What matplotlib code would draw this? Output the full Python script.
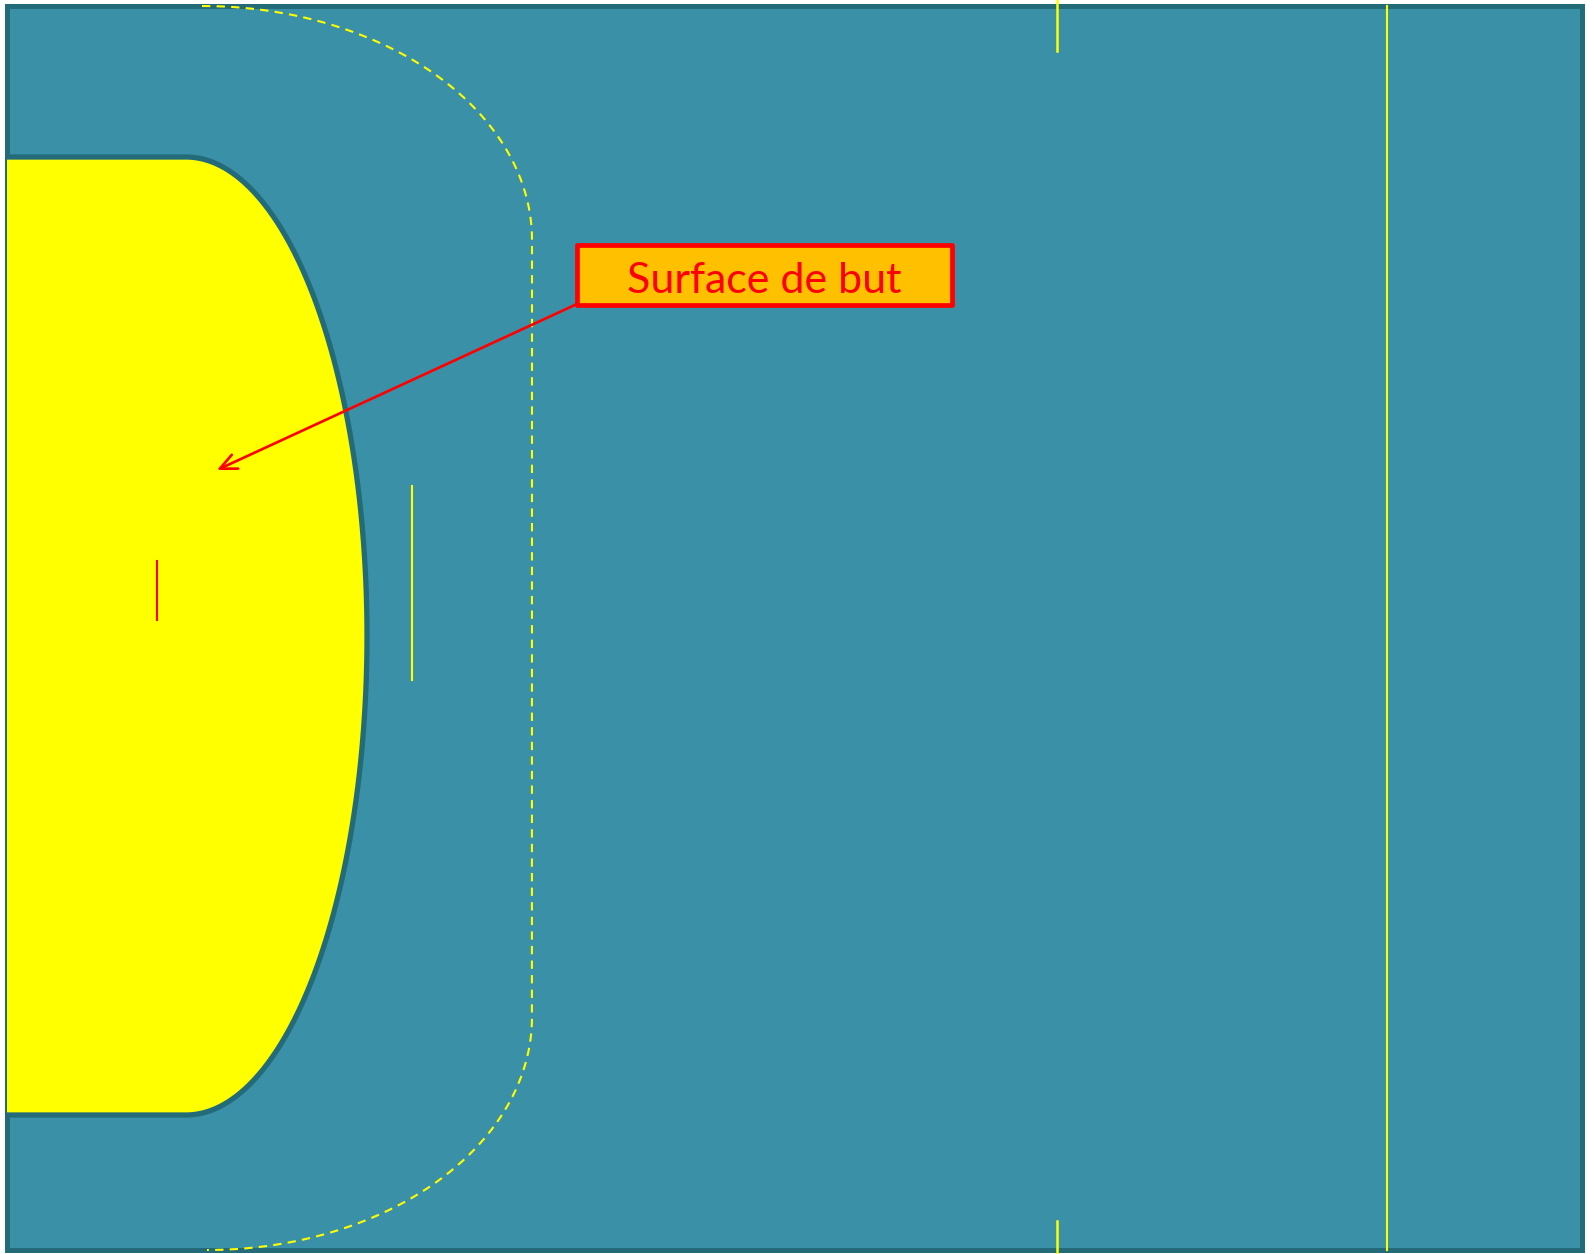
import numpy as np
import matplotlib

matplotlib.use("Agg")
import matplotlib.pyplot as plt
from matplotlib.patches import Rectangle, Polygon

# canvas (pixel units, y grows downwards)
W, H = 1594, 1254
COURT = (7, 6, 1582, 1250)            # x0, y0, x1, y1 of the court outline
GOAL_AREA = dict(x0=7, top=157, bottom=1115, x_flat=186, x_max=367)
FREE_THROW = dict(top=(202, 6), bottom=(207, 1250), x=532, y_top=240, y_bot=1017)
SEVEN_M = (412, 486, 680)             # x, y0, y1
KEEPER = (157, 561, 620)              # x, y0, y1
SUB_X = 1057
SUB_SEGMENTS = [(0, 51), (1221, 1254)]
CENTER_X = 1387
LABEL = "Surface de but"
LABEL_BOX = (577, 245, 952, 305)
ARROW_FROM = (577, 304)
ARROW_TO = (217, 470)

BG = "#3a90a7"
EDGE = "#246b7a"
YEL = "#ffff00"

fig = plt.figure(figsize=(W / 100, H / 100), dpi=100)
ax = fig.add_axes([0, 0, 1, 1])
ax.set_xlim(0, W)
ax.set_ylim(H, 0)
ax.axis("off")

x0, y0, x1, y1 = COURT
ax.add_patch(Rectangle((x0, y0), x1 - x0, y1 - y0, facecolor=BG, edgecolor=EDGE, lw=3.6, zorder=1))

# goal area: flat part + half ellipse
g = GOAL_AREA
cy = (g["top"] + g["bottom"]) / 2
ry = (g["bottom"] - g["top"]) / 2
rx = g["x_max"] - g["x_flat"]
t = np.linspace(-np.pi / 2, np.pi / 2, 300)
ex = g["x_flat"] + rx * np.cos(t)
ey = cy + ry * np.sin(t)
pts = [(g["x0"], g["top"])] + list(zip(ex, ey)) + [(g["x0"], g["bottom"])]
ax.add_patch(Polygon(pts, closed=False, facecolor=YEL, edgecolor=EDGE, lw=3.8, zorder=2, joinstyle="round"))

# free-throw line (dashed)
f = FREE_THROW
t1 = np.linspace(np.pi / 2, 0, 200)
top_x = f["top"][0] + (f["x"] - f["top"][0]) * np.cos(t1)
top_y = f["y_top"] - (f["y_top"] - f["top"][1]) * np.sin(t1)
t2 = np.linspace(0, np.pi / 2, 200)
bot_x = f["bottom"][0] + (f["x"] - f["bottom"][0]) * np.cos(t2)
bot_y = f["y_bot"] + (f["bottom"][1] - f["y_bot"]) * np.sin(t2)
fx = np.concatenate([top_x, bot_x])
fy = np.concatenate([top_y, bot_y])
ax.plot(fx, fy, color=YEL, lw=1.5, ls=(0, (4, 3)), zorder=3)

# short marks and lines
ax.plot([SEVEN_M[0]] * 2, SEVEN_M[1:], color=YEL, lw=1.5, zorder=3)
ax.plot([KEEPER[0]] * 2, KEEPER[1:], color="red", lw=1.5, zorder=3)
for a, b in SUB_SEGMENTS:
    ax.plot([SUB_X] * 2, [a, b], color=YEL, lw=1.8, zorder=4)
ax.plot([CENTER_X] * 2, [y0, y1], color=YEL, lw=1.5, zorder=3)

# label with arrow
bx0, by0, bx1, by1 = LABEL_BOX
ax.add_patch(Rectangle((bx0, by0), bx1 - bx0, by1 - by0, facecolor="#ffc000", edgecolor="red",
                       lw=3.4, zorder=5, joinstyle="round"))
ax.text((bx0 + bx1) / 2, (by0 + by1) / 2 + 6, LABEL, color="red", fontsize=31, family="Lato",
        ha="center", va="center", zorder=6)
ax.annotate("", xy=ARROW_TO, xytext=ARROW_FROM, zorder=5,
            arrowprops=dict(arrowstyle="->,head_length=1.2,head_width=0.55", color="red", lw=1.9,
                            shrinkA=0, shrinkB=0))

fig.savefig("out.png", dpi=100, facecolor="white")
